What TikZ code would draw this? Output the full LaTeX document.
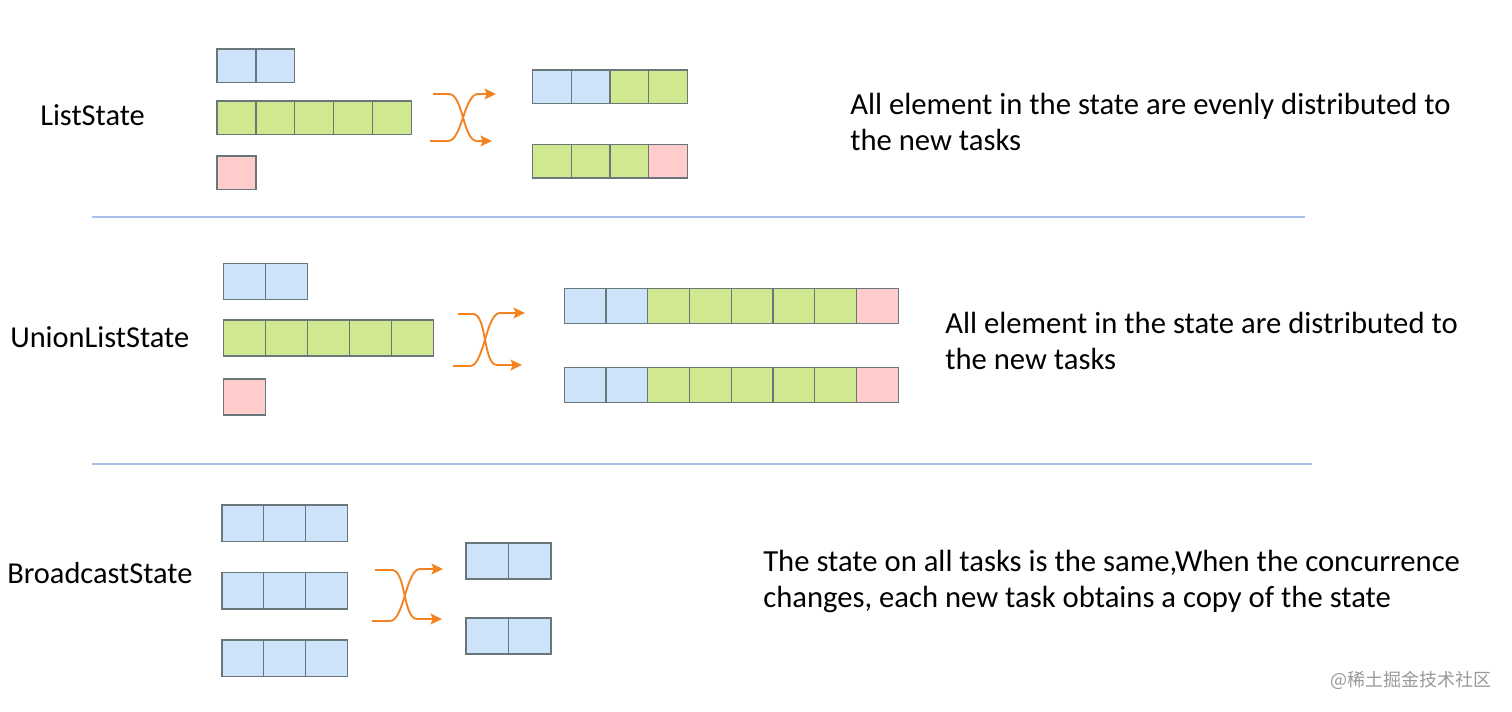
\documentclass[tikz,border=0pt]{standalone}
\usepackage{fontspec}
\setmainfont{Carlito}
\newfontfamily\cjk{Noto Sans CJK SC}
\usetikzlibrary{arrows.meta}
\definecolor{skyblue}{RGB}{204, 227, 250}
\definecolor{limegreen}{RGB}{208, 233, 145}
\definecolor{blush}{RGB}{255, 204, 204}
\definecolor{slate}{RGB}{105, 118, 122}
\definecolor{tangerine}{RGB}{243, 130, 32}
\definecolor{divider}{RGB}{168, 192, 234}

% one row of state cells: x, y, cell width, cell height, colours
\newcommand{\cellrow}[5]{%
  \foreach \c [count=\i from 0] in {#5}
    {\filldraw[cell, fill=\c] ({#1+\i*#3},#2) rectangle ++(#3,#4);}}

\begin{document}
\begin{tikzpicture}[x=0.75pt, y=-0.75pt,
    cell/.style={draw=slate, line width=0.9pt},
    swap/.style={draw=tangerine, line width=1.4pt, -{Stealth[length=8.5pt, width=8pt, inset=1.5pt]}},
    rule/.style={draw=divider, line width=1pt},
    statename/.style={anchor=base west, inner sep=0pt, font=\fontsize{22.8}{27}\selectfont},
    note/.style={anchor=base west, inner sep=0pt, align=left, font=\fontsize{23}{27}\selectfont}]
  \useasboundingbox (0,0) rectangle (1512,711);

  % ListState
  \node[statename] (ls) at (40,125) {ListState};
  \cellrow{217}{49}{38.9}{33.5}{skyblue,skyblue}
  \cellrow{217}{101}{38.9}{33.5}{limegreen,limegreen,limegreen,limegreen,limegreen}
  \cellrow{217}{156}{38.9}{33.5}{blush}
  \coordinate (ls-in-top)  at (433,94);
  \coordinate (ls-in-bot)  at (430,141);
  \coordinate (ls-out-top) at (496,94);
  \coordinate (ls-out-bot) at (492,141);
  \draw[swap] (ls-in-top) -- ++(16,0) .. controls +(14,0) and +(-14,0) .. ++(28,47) -- (ls-out-bot);
  \draw[swap] (ls-in-bot) -- ++(18,0) .. controls +(14,0) and +(-14,0) .. ++(30,-47) -- (ls-out-top);
  \cellrow{532.5}{70}{38.7}{33.5}{skyblue,skyblue,limegreen,limegreen}
  \cellrow{532.5}{144.5}{38.7}{33.5}{limegreen,limegreen,limegreen,blush}
  \node[note] (ls-note) at (850,150) {All element in the state are evenly distributed to\\the new tasks};

  \draw[rule] (92,217) -- (1305,217);

  % UnionListState
  \node[statename] (uls) at (10,347) {UnionListState};
  \cellrow{223.3}{263.5}{42}{36}{skyblue,skyblue}
  \cellrow{223.3}{320}{42}{36}{limegreen,limegreen,limegreen,limegreen,limegreen}
  \cellrow{223.3}{379}{42}{36}{blush}
  \coordinate (uls-in-top)  at (458,314);
  \coordinate (uls-in-bot)  at (453,366);
  \coordinate (uls-out-top) at (525,313);
  \coordinate (uls-out-bot) at (522,365);
  \draw[swap] (uls-in-top) -- ++(15,0) .. controls +(14,0) and +(-14,0) .. ++(24,51) -- (uls-out-bot);
  \draw[swap] (uls-in-bot) -- ++(17,0) .. controls +(14,0) and +(-14,0) .. ++(30,-53) -- (uls-out-top);
  \cellrow{564.3}{288.3}{41.75}{35}{skyblue,skyblue,limegreen,limegreen,limegreen,limegreen,limegreen,blush}
  \cellrow{564.3}{367.5}{41.75}{35}{skyblue,skyblue,limegreen,limegreen,limegreen,limegreen,limegreen,blush}
  \node[note] (uls-note) at (945,369) {All element in the state are distributed to\\the new tasks};

  \draw[rule] (92,464) -- (1312,464);

  % BroadcastState
  \node[statename] (bs) at (7,583) {BroadcastState};
  \cellrow{222}{505}{41.7}{36.5}{skyblue,skyblue,skyblue}
  \cellrow{222}{572.5}{41.7}{36.5}{skyblue,skyblue,skyblue}
  \cellrow{222}{640}{41.7}{36.5}{skyblue,skyblue,skyblue}
  \coordinate (bs-in-top)  at (375,570);
  \coordinate (bs-in-bot)  at (372,621);
  \coordinate (bs-out-top) at (443,569);
  \coordinate (bs-out-bot) at (442,619);
  \draw[swap] (bs-in-top) -- ++(17,0) .. controls +(14,0) and +(-14,0) .. ++(25,49) -- (bs-out-bot);
  \draw[swap] (bs-in-bot) -- ++(18,0) .. controls +(14,0) and +(-14,0) .. ++(30,-52) -- (bs-out-top);
  \cellrow{466}{543}{42.5}{36}{skyblue,skyblue}
  \cellrow{466}{618}{42.5}{36}{skyblue,skyblue}
  \node[note] (bs-note) at (763,607) {The state on all tasks is the same,When the concurrence\\changes, each new task obtains a copy of the state};

  \node[anchor=west, inner sep=0pt, text=black!40, font=\cjk\fontsize{13.5}{15}\selectfont] (mark) at (1330,680) {@稀土掘金技术社区};
\end{tikzpicture}
\end{document}
